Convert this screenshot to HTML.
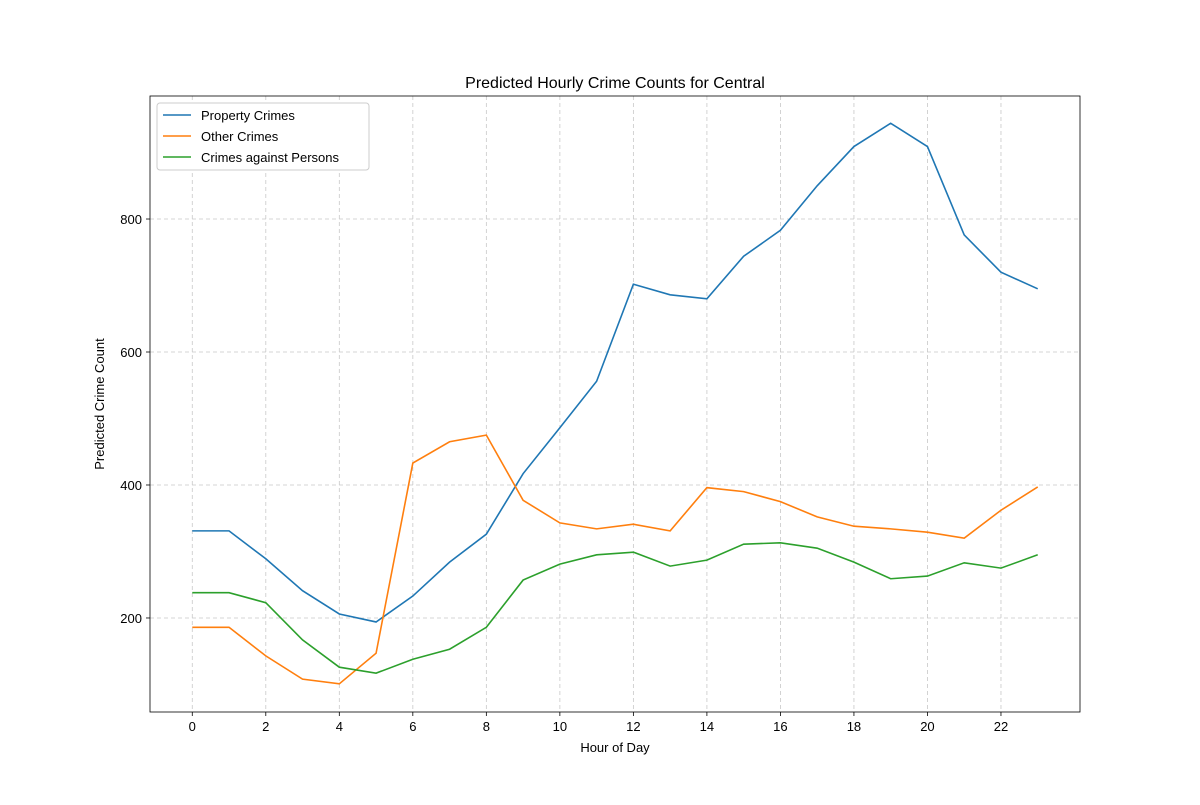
<!DOCTYPE html>
<html><head><meta charset="utf-8"><style>
body{margin:0;background:#fff;}
svg{font-family:"Liberation Sans","DejaVu Sans",sans-serif;}
</style></head><body>
<svg id="chart" width="1200" height="800" xmlns="http://www.w3.org/2000/svg"></svg>
<script>
const hours = [0,1,2,3,4,5,6,7,8,9,10,11,12,13,14,15,16,17,18,19,20,21,22,23];
const propertyCrimes = [331,331,289,241,206,194,233,284,326,417,486,556,702,686,680,744,783,850,909,944,909,776,720,695];
const otherCrimes = [186,186,143,108,101,147,433,465,475,377,343,334,341,331,396,390,375,352,338,334,329,320,362,397];
const personCrimes = [238,238,223,167,126,117,138,153,186,257,281,295,299,278,287,311,313,305,284,259,263,283,275,295];
const xTicks = [0,2,4,6,8,10,12,14,16,18,20,22];
const yTicks = [200,400,600,800];

const NS="http://www.w3.org/2000/svg";
const svg=document.getElementById('chart');
const L=150,R=1080,T=96,B=712;
const xMin=-1.15,xMax=24.15,yMin=58.6,yMax=985;
const xs=v=>L+(v-xMin)/(xMax-xMin)*(R-L);
const ys=v=>B-(v-yMin)/(yMax-yMin)*(B-T);
function mk(tag,attrs,parent){const e=document.createElementNS(NS,tag);for(const k in attrs)e.setAttribute(k,attrs[k]);(parent||svg).appendChild(e);return e;}

const grid=mk('g',{});


xTicks.forEach(t=>{
  mk('line',{x1:xs(t),x2:xs(t),y1:T,y2:B,stroke:'#c8c8c8','stroke-dasharray':'4,3','stroke-width':0.8},grid);
  mk('line',{x1:xs(t),x2:xs(t),y1:B,y2:B+4,stroke:'#000','stroke-width':0.8});
  const tx=mk('text',{x:xs(t),y:B+19,'text-anchor':'middle','font-size':13});
  tx.textContent=t;
  
  
});
yTicks.forEach(t=>{
  mk('line',{x1:L,x2:R,y1:ys(t),y2:ys(t),stroke:'#c8c8c8','stroke-dasharray':'4,3','stroke-width':0.8},grid);
  mk('line',{x1:L-4,x2:L,y1:ys(t),y2:ys(t),stroke:'#000','stroke-width':0.8});
  const tx=mk('text',{x:L-8,y:ys(t)+5,'text-anchor':'end','font-size':13});
  tx.textContent=t;
  
  
});

function series(vals,color,name){
  const p=mk('polyline',{points:vals.map((v,i)=>xs(hours[i])+','+ys(v)).join(' '),fill:'none',stroke:color,'stroke-width':1.6});
  
  
}
series(propertyCrimes,'#1f77b4','property-crimes-line');
series(otherCrimes,'#ff7f0e','other-crimes-line');
series(personCrimes,'#2ca02c','crimes-against-persons-line');

const frame=mk('rect',{x:L,y:T,width:R-L,height:B-T,fill:'none',stroke:'#000','stroke-width':0.8});



const title=mk('text',{x:(L+R)/2,y:88,'text-anchor':'middle','font-size':16});
title.textContent='Predicted Hourly Crime Counts for Central';


const xl=mk('text',{x:(L+R)/2,y:752,'text-anchor':'middle','font-size':13});
xl.textContent='Hour of Day';


const yl=mk('text',{x:104,y:(T+B)/2,'text-anchor':'middle','font-size':13,transform:'rotate(-90 104 '+((T+B)/2)+')'});
yl.textContent='Predicted Crime Count';



const lg=mk('g',{});


mk('rect',{x:157,y:103,width:212,height:67,rx:3,fill:'#fff',stroke:'#ccc'},lg);
[['Property Crimes','#1f77b4'],['Other Crimes','#ff7f0e'],['Crimes against Persons','#2ca02c']].forEach((e,i)=>{
  const y=115+i*21;
  mk('line',{x1:163,x2:191,y1:y,y2:y,stroke:e[1],'stroke-width':1.6},lg);
  const t=mk('text',{x:201,y:y+5,'font-size':13},lg);
  t.textContent=e[0];
  
  
});
</script>
</body></html>
